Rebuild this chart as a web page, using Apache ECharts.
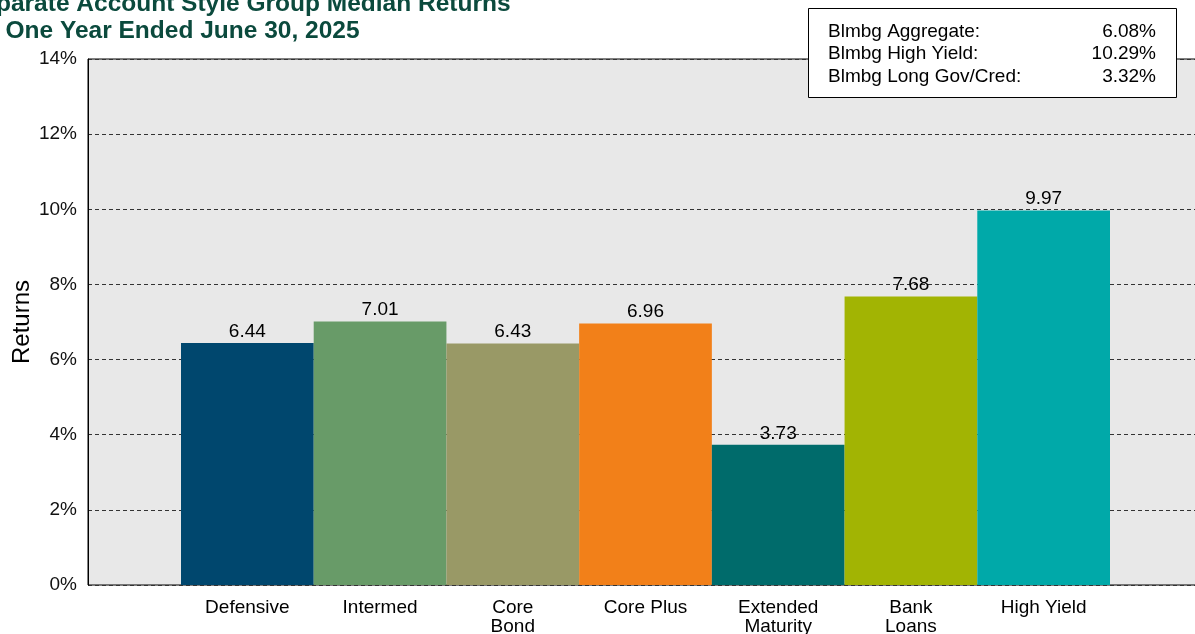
<!DOCTYPE html>
<html>
<head>
<meta charset="utf-8">
<script src="https://cdn.jsdelivr.net/npm/echarts@6/dist/echarts.min.js"></script>
<style>html,body{margin:0;padding:0;background:#fff;}#c{width:1195px;height:634px;}</style>
</head>
<body>
<div id="c"></div>
<script>
const categories = ['Defensive', 'Intermed', 'Core\nBond', 'Core Plus', 'Extended\nMaturity', 'Bank\nLoans', 'High Yield'];
const values = [6.44, 7.01, 6.43, 6.96, 3.73, 7.68, 9.97];
const barColors = ['#00476e', '#689b68', '#999966', '#f28019', '#006b6b', '#a2b403', '#00a9a9'];
const benchNames = ['Blmbg Aggregate:', 'Blmbg High Yield:', 'Blmbg Long Gov/Cred:'];
const benchValues = ['6.08%', '10.29%', '3.32%'];
const titleLines = ['Separate Account Style Group Median Returns', 'for One Year Ended June 30, 2025'];
const yAxisTitle = 'Returns';

const FONT = 'Liberation Sans, Arial, sans-serif';
const FS = 19;
const chart = echarts.init(document.getElementById('c'));

const graphics = [];
titleLines.forEach((t, i) => {
  graphics.push({
    type: 'text', left: -34, top: -8 + i * 27, z: 10,
    style: { text: t, fill: '#0b4a3d', font: 'bold 24.5px ' + FONT }
  });
});
graphics.push({
  type: 'text', x: 22, y: 322, rotation: Math.PI / 2, z: 10,
  style: { text: yAxisTitle, fill: '#000', font: '24px ' + FONT, align: 'center', verticalAlign: 'middle' }
});
graphics.push({
  type: 'rect', shape: { x: 808.5, y: 8.5, width: 368, height: 89 }, z: 10,
  style: { fill: '#fff', stroke: '#000', lineWidth: 1 }
});
benchNames.forEach((n, i) => {
  graphics.push({ type: 'text', x: 828, y: 31.5 + i * 22.5, z: 11,
    style: { text: n, fill: '#000', font: FS + 'px ' + FONT, verticalAlign: 'middle', align: 'left' } });
  graphics.push({ type: 'text', x: 1156, y: 31.5 + i * 22.5, z: 11,
    style: { text: benchValues[i], fill: '#000', font: FS + 'px ' + FONT, verticalAlign: 'middle', align: 'right' } });
});

chart.setOption({
  animation: false,
  textStyle: { fontFamily: FONT },
  grid: [
    { left: 88, right: -10, top: 59, bottom: 49, show: true, backgroundColor: '#e8e8e8', borderColor: '#000', borderWidth: 1, containLabel: false, outerBoundsMode: 'none' },
    { left: 181, right: 85, top: 59, bottom: 49, containLabel: false, outerBoundsMode: 'none' }
  ],
  xAxis: [
    { type: 'category', gridIndex: 0, data: [''], show: false },
    { type: 'category', gridIndex: 1, data: categories,
      axisLine: { show: false }, axisTick: { show: false },
      axisLabel: { fontSize: FS, color: '#000', lineHeight: 19, margin: 13, interval: 0 } }
  ],
  yAxis: [
    { type: 'value', gridIndex: 0, min: 0, max: 14, interval: 2,
      axisLine: { show: true, lineStyle: { color: '#000' } }, axisTick: { show: false },
      axisLabel: { formatter: '{value}%', fontSize: FS, color: '#111', margin: 11 },
      splitLine: { show: true, lineStyle: { color: '#333', type: [4, 3], width: 1 } } },
    { type: 'value', gridIndex: 1, min: 0, max: 14, interval: 2, show: false, splitLine: { show: false } }
  ],
  series: [{
    type: 'bar', xAxisIndex: 1, yAxisIndex: 1, barCategoryGap: 0, z: 3,
    data: values.map((v, i) => ({ value: v, itemStyle: { color: barColors[i] } })),
    label: { show: true, position: 'top', distance: 2, fontSize: FS, color: '#000', formatter: p => p.value.toFixed(2) }
  }],
  graphic: graphics
});
</script>
</body>
</html>
